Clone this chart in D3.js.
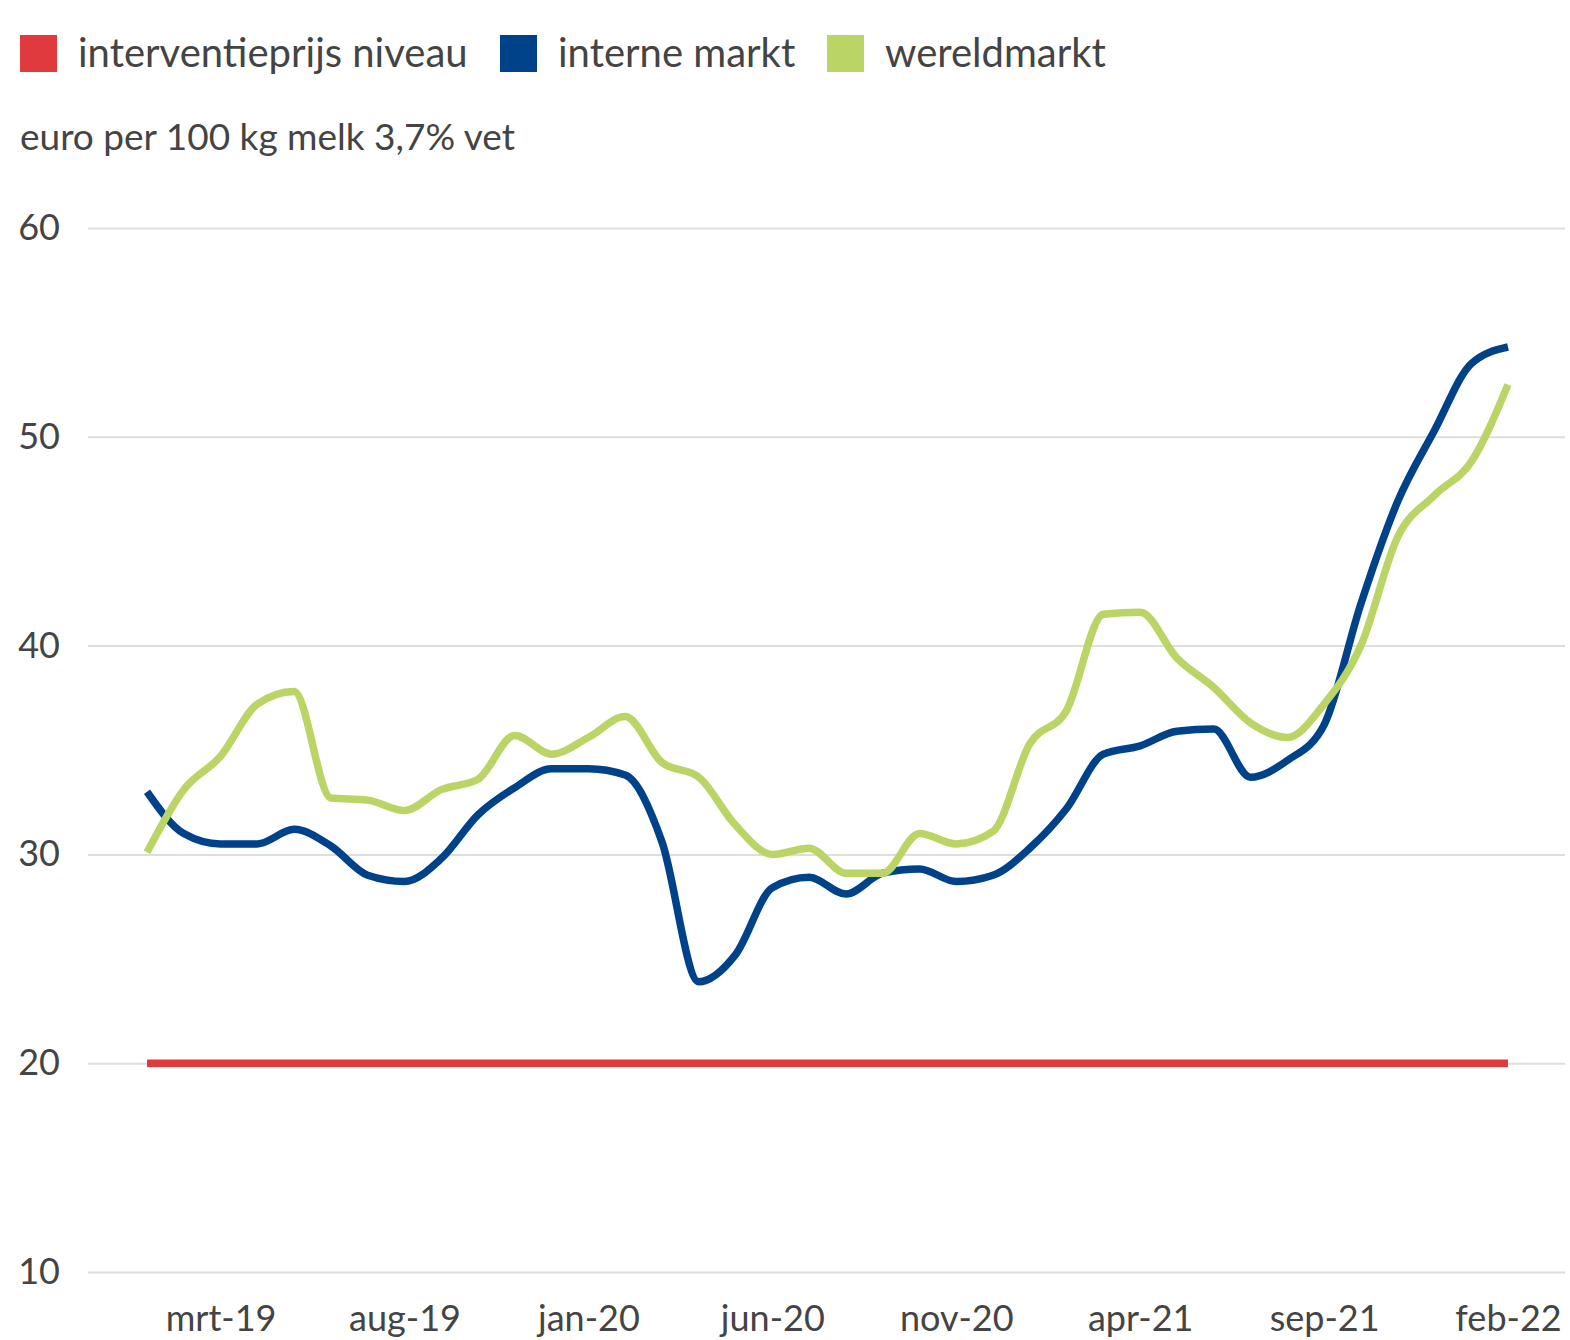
<!DOCTYPE html>
<html>
<head>
<meta charset="utf-8">
<script src="https://cdn.jsdelivr.net/npm/d3@7"></script>
<style>
  body { margin: 0; background: #fff; }
  svg text { font-family: Lato, "Noto Sans", sans-serif; }
</style>
</head>
<body>
<div class="chart-wrap"></div>
<script>
// months jan-19 .. feb-22
var months = ['jan-19','feb-19','mrt-19','apr-19','mei-19','jun-19','jul-19','aug-19','sep-19','okt-19','nov-19','dec-19',
  'jan-20','feb-20','mrt-20','apr-20','mei-20','jun-20','jul-20','aug-20','sep-20','okt-20','nov-20','dec-20',
  'jan-21','feb-21','mrt-21','apr-21','mei-21','jun-21','jul-21','aug-21','sep-21','okt-21','nov-21','dec-21',
  'jan-22','feb-22'];

var interneMarkt = [33.0, 31.0, 30.5, 30.5, 31.2, 30.4, 29.0, 28.7, 29.8, 31.9, 33.2, 34.1,
  34.1, 33.8, 30.6, 23.9, 25.2, 28.4, 28.9, 28.1, 29.1, 29.3, 28.7, 29.0,
  30.3, 32.2, 34.8, 35.2, 35.9, 36.0, 33.7, 34.5, 36.2, 42.0, 46.9, 50.3,
  53.5, 54.3];

var wereldmarkt = [30.1, 33.1, 34.7, 37.2, 37.8, 32.7, 32.6, 32.1, 33.1, 33.6, 35.7, 34.8,
  35.6, 36.6, 34.4, 33.7, 31.4, 30.0, 30.3, 29.1, 29.1, 31.0, 30.5, 31.1,
  35.3, 36.9, 41.5, 41.6, 39.4, 38.0, 36.3, 35.6, 37.2, 40.0, 45.2, 47.2,
  48.8, 52.5];

var interventieprijs = months.map(function() { return 20; });

var yTicks = [10, 20, 30, 40, 50, 60];
var xTickLabels = ['mrt-19','aug-19','jan-20','jun-20','nov-20','apr-21','sep-21','feb-22'];

var legendItems = [
  { label: 'interventieprijs niveau', color: '#e03a3e', data: interventieprijs },
  { label: 'interne markt', color: '#00428a', data: interneMarkt },
  { label: 'wereldmarkt', color: '#bad465', data: wereldmarkt }
];

var width = 1570, height = 1340;

var svg = d3.select('.chart-wrap').append('svg')
  .attr('width', width)
  .attr('height', height);

var x = d3.scaleLinear().domain([0, months.length - 1]).range([147, 1508]);
var y = d3.scaleLinear().domain([10, 60]).range([1272, 228]);

// legend
var lx = [20, 500, 827];
var legend = svg.selectAll('.legend').data(legendItems).enter().append('g')
  .attr('class', 'legend')
  .attr('transform', function(d, i) { return 'translate(' + lx[i] + ',35)'; });
legend.append('rect')
  .attr('width', 37).attr('height', 37)
  .style('fill', function(d) { return d.color; });
legend.append('text')
  .attr('x', 58).attr('y', 32)
  .style('font-size', '40px')
  .style('fill', '#444')
  .text(function(d) { return d.label; });

svg.append('text')
  .attr('x', 20).attr('y', 150)
  .style('font-size', '37px')
  .style('fill', '#444')
  .text('euro per 100 kg melk 3,7% vet');

// gridlines + y labels
var yAxis = d3.axisLeft(y).tickValues(yTicks).tickSize(-(1565 - 88)).tickPadding(28);
var gy = svg.append('g').attr('transform', 'translate(88,0)').call(yAxis);
gy.select('.domain').remove();
gy.selectAll('.tick line').style('stroke', '#dedede').style('stroke-width', 2);
gy.selectAll('.tick text')
  .attr('x', -28)
  .style('font-size', '36px')
  .style('fill', '#444')
  .style('text-anchor', 'end');

// x labels
var tickIdx = xTickLabels.map(function(l) { return months.indexOf(l); });
var xAxis = d3.axisBottom(x).tickValues(tickIdx).tickSize(0).tickPadding(0)
  .tickFormat(function(d) { return months[d]; });
var gx = svg.append('g').attr('transform', 'translate(0,1302)').call(xAxis);
gx.select('.domain').remove();
gx.selectAll('.tick text')
  .attr('dy', '0.8em')
  .style('font-size', '36px')
  .style('fill', '#444');

var line = d3.line()
  .x(function(d, i) { return x(i); })
  .y(function(d) { return y(d); })
  .curve(d3.curveMonotoneX);

svg.selectAll('.series').data(legendItems).enter().append('path')
  .attr('class', 'series')
  .attr('d', function(d) { return line(d.data); })
  .style('fill', 'none')
  .style('stroke', function(d) { return d.color; })
  .style('stroke-width', 7.5)
  .style('stroke-linejoin', 'round');
</script>
</body>
</html>
